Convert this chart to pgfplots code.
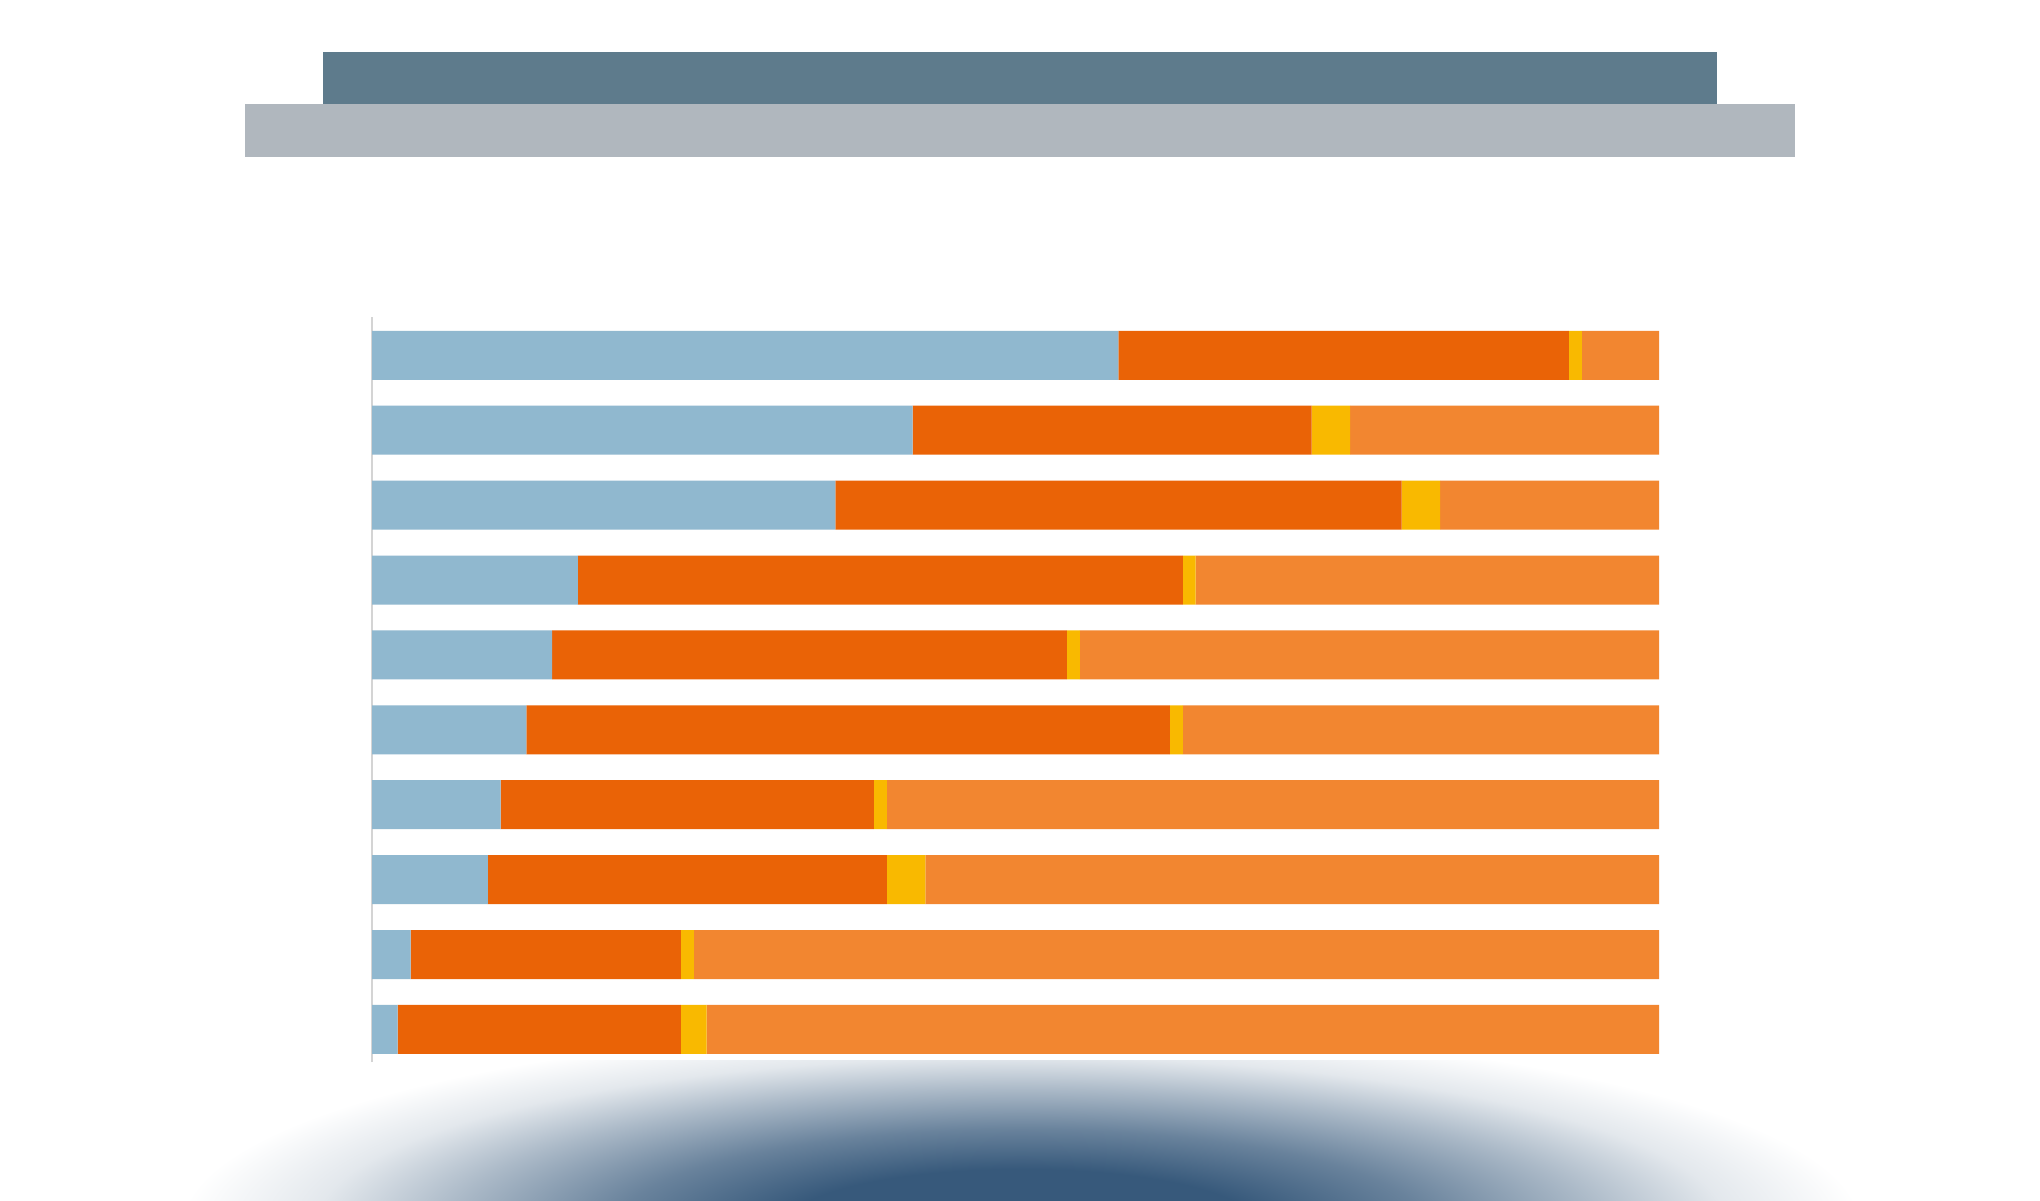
\documentclass[border=0pt]{standalone}
\usepackage{pgfplots}
\usepackage{pgfplotstable}
\pgfplotsset{compat=1.18}
\definecolor{cblue}{HTML}{90B8CF}
\definecolor{cdark}{HTML}{EA6306}
\definecolor{cyel}{HTML}{F9B900}
\definecolor{clight}{HTML}{F28630}
\definecolor{titledark}{HTML}{5E7B8C}
\definecolor{titlegrey}{HTML}{B0B7BE}
\definecolor{axisgrey}{HTML}{D4D4D4}
\definecolor{shadowc}{HTML}{37597B}
\pgfdeclareradialshading{bottomshadow}{\pgfpoint{0bp}{0bp}}{%
  color(0bp)=(shadowc); color(7bp)=(shadowc); color(12bp)=(shadowc!75!white); color(17bp)=(shadowc!42!white); color(21bp)=(shadowc!14!white); color(25bp)=(white); color(50bp)=(white)}
\pgfplotstableread{
y a b c d
9 58 35 1 6
8 42 31 3 24
7 36 44 3 17
6 16 47 1 36
5 14 40 1 45
4 12 50 1 37
3 10 29 1 60
2 9 31 3 57
1 3 21 1 75
0 2 22 2 74
}\datatable
\begin{document}
\begin{tikzpicture}[x=1cm,y=1cm]
\fill[white] (0,0) rectangle (20.4,12);
\useasboundingbox (0,0) rectangle (20.4,12);
\begin{scope}
\clip (0,0) rectangle (20.4,1.40);
\shade[shading=bottomshadow] (10.21,-0.25) ellipse (8.4cm and 2.0cm);
\end{scope}
\fill[titledark] (3.23,10.96) rectangle (17.17,11.48);
\fill[titlegrey] (2.45,10.43) rectangle (17.95,10.96);
\begin{axis}[
  at={(3.72cm,1.38cm)}, anchor=south west,
  scale only axis, width=12.87cm, height=7.45cm,
  xmin=0, xmax=100, ymin=-0.434, ymax=9.511,
  xbar stacked, bar width=0.49cm,
  axis x line=none, axis y line=left,
  axis line style={-, draw=axisgrey, line width=0.8pt},
  ytick=\empty, xtick=\empty,
  clip=false,
]
\addplot[fill=cblue, draw=none] table[x=a, y=y] {\datatable};
\addplot[fill=cdark, draw=none] table[x=b, y=y] {\datatable};
\addplot[fill=cyel, draw=none] table[x=c, y=y] {\datatable};
\addplot[fill=clight, draw=none] table[x=d, y=y] {\datatable};
\end{axis}
\end{tikzpicture}
\end{document}
